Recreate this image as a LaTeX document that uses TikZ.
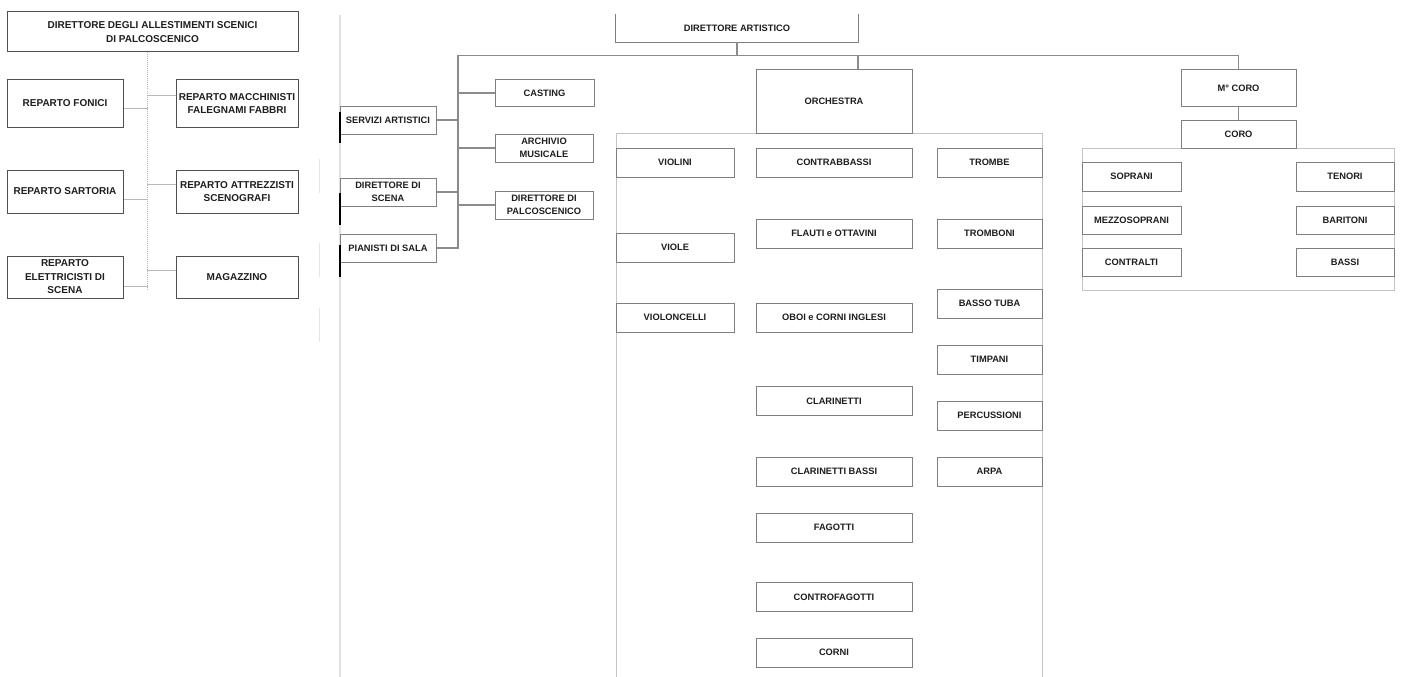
\documentclass[tikz,border=0pt]{standalone}
\usepackage{fontspec}
\setmainfont{Liberation Sans}
\usepackage{xcolor}
\usepackage{tikz}

\definecolor{boxline}{HTML}{7F7F7F}
\definecolor{linkline}{HTML}{8C8C8C}
\definecolor{frameline}{HTML}{C4C4C4}
\definecolor{darkline}{HTML}{505050}
\definecolor{paleline}{HTML}{B8B8B8}
\definecolor{rulerline}{HTML}{DDE2EA}
\definecolor{textcol}{HTML}{1E1E1E}

\begin{document}
\begin{tikzpicture}[x=1pt, y=-1pt,
		leftnode/.style={rectangle, draw=darkline, line width=1pt, inner sep=1pt, align=center, text=textcol, font=\bfseries\fontsize{10}{13.5}\selectfont},
		rectnode/.style={rectangle, draw=boxline, line width=1pt, inner sep=1pt, align=center, text=textcol, font=\bfseries\fontsize{9.3}{12.8}\selectfont, minimum height=29},
		leftlink/.style={draw=paleline, line width=1pt},
		link/.style={draw=linkline, line width=1.2pt},
		groupframe/.style={draw=frameline, line width=1pt},
	]

		% page
		\fill[white] (0,0) rectangle (1401,677);
		\useasboundingbox (0,0) rectangle (1401,677);
		\draw[rulerline, line width=1.5pt] (340,15) -- (340,677);
		\draw[black!10, line width=1pt] (319,159) -- (319,193) (319,243) -- (319,277) (319,308) -- (319,342);

		% frames
		\draw[groupframe] (616,677) -- (616,133) -- (1042,133) -- (1042,677);
		\draw[groupframe] (1082,148) rectangle (1394,290);

		% nodes, left panel
		\node[leftnode, minimum width=291, minimum height=40] (allest) at (152.5,32) {DIRETTORE DEGLI ALLESTIMENTI SCENICI\\DI PALCOSCENICO};
		\node[leftnode, minimum width=116, minimum height=47] (fonici) at (65,103.5) {REPARTO FONICI};
		\node[leftnode, minimum width=122, minimum height=47] (macchinisti) at (237,103.5) {REPARTO MACCHINISTI\\FALEGNAMI FABBRI};
		\node[leftnode, minimum width=116, minimum height=43] (sartoria) at (65,191.5) {REPARTO SARTORIA};
		\node[leftnode, minimum width=122, minimum height=43] (attrezzisti) at (237,191.5) {REPARTO ATTREZZISTI\\SCENOGRAFI};
		\node[leftnode, minimum width=116, minimum height=42] (elettricisti) at (65,277) {REPARTO\\ELETTRICISTI DI\\SCENA};
		\node[leftnode, minimum width=122, minimum height=42] (magazzino) at (237,277) {MAGAZZINO};

		% nodes, artistic staff
		\node[rectnode, minimum width=96, minimum height=28] (servizi) at (388,120) {SERVIZI ARTISTICI};
		\node[rectnode, minimum width=96, minimum height=28] (dirscena) at (388,192) {DIRETTORE DI\\SCENA};
		\node[rectnode, minimum width=96, minimum height=28] (pianisti) at (388,248) {PIANISTI DI SALA};
		\node[rectnode, minimum width=99, minimum height=26] (casting) at (544.5,93) {CASTING};
		\node[rectnode, minimum width=98, minimum height=28] (archivio) at (544,148) {ARCHIVIO\\MUSICALE};
		\node[rectnode, minimum width=98, minimum height=28] (dirpalco) at (544,205) {DIRETTORE DI\\PALCOSCENICO};
		\node[rectnode, draw=none, minimum width=242, minimum height=27] (artistico) at (737,28.5) {DIRETTORE ARTISTICO};
		\draw[boxline, line width=1pt] (artistico.north west) -- (artistico.south west) -- (artistico.south east) -- (artistico.north east);

		% nodes, orchestra
		\node[rectnode, minimum width=156, minimum height=63] (orchestra) at (834,101.5) {ORCHESTRA};
		\node[rectnode, minimum width=118] (violini) at (675,162.5) {VIOLINI};
		\node[rectnode, minimum width=118] (viole) at (675,247.5) {VIOLE};
		\node[rectnode, minimum width=118] (violoncelli) at (675,317.5) {VIOLONCELLI};
		\node[rectnode, minimum width=156] (contrabbassi) at (834,162.5) {CONTRABBASSI};
		\node[rectnode, minimum width=156] (flauti) at (834,233.5) {FLAUTI e OTTAVINI};
		\node[rectnode, minimum width=156] (oboi) at (834,317.5) {OBOI e CORNI INGLESI};
		\node[rectnode, minimum width=156] (clarinetti) at (834,401) {CLARINETTI};
		\node[rectnode, minimum width=156] (clarbassi) at (834,471.5) {CLARINETTI BASSI};
		\node[rectnode, minimum width=156] (fagotti) at (834,527.5) {FAGOTTI};
		\node[rectnode, minimum width=156] (controfagotti) at (834,597) {CONTROFAGOTTI};
		\node[rectnode, minimum width=156] (corni) at (834,652.5) {CORNI};
		\node[rectnode, minimum width=105] (trombe) at (989.5,162.5) {TROMBE};
		\node[rectnode, minimum width=105] (tromboni) at (989.5,233.5) {TROMBONI};
		\node[rectnode, minimum width=105] (tuba) at (989.5,303.5) {BASSO TUBA};
		\node[rectnode, minimum width=105] (timpani) at (989.5,359.5) {TIMPANI};
		\node[rectnode, minimum width=105] (percussioni) at (989.5,415.5) {PERCUSSIONI};
		\node[rectnode, minimum width=105] (arpa) at (989.5,471.5) {ARPA};

		% nodes, choir
		\node[rectnode, minimum width=115, minimum height=36] (mcoro) at (1238.5,88) {M° CORO};
		\node[rectnode, minimum width=115, minimum height=28] (coro) at (1238.5,134) {CORO};
		\node[rectnode, minimum width=99] (soprani) at (1131.5,176.5) {SOPRANI};
		\node[rectnode, minimum width=99, minimum height=28] (mezzo) at (1131.5,220) {MEZZOSOPRANI};
		\node[rectnode, minimum width=99, minimum height=28] (contralti) at (1131.5,262) {CONTRALTI};
		\node[rectnode, minimum width=98] (tenori) at (1345,176.5) {TENORI};
		\node[rectnode, minimum width=98, minimum height=28] (baritoni) at (1345,220) {BARITONI};
		\node[rectnode, minimum width=98, minimum height=28] (bassi) at (1345,262) {BASSI};

		% lines, left panel
		\coordinate (spine) at (147,290);
		\draw[leftlink, densely dotted] (allest.south -| spine) -- (spine);
		\draw[leftlink] ([yshift=-4.5pt]fonici.east) -- ++(24,0);
		\draw[leftlink] ([yshift=7.5pt]macchinisti.west) -- ++(-29,0);
		\draw[leftlink] ([yshift=-7.5pt]sartoria.east) -- ++(24,0);
		\draw[leftlink] ([yshift=7.5pt]attrezzisti.west) -- ++(-29,0);
		\draw[leftlink] ([yshift=-9pt]elettricisti.east) -- ++(24,0);
		\draw[leftlink] ([yshift=7pt]magazzino.west) -- ++(-29,0);

		% lines, main chart
		\coordinate (busleft) at (458,55.5);
		\coordinate (busright) at (1238.5,55.5);
		\coordinate (orchtop) at ([xshift=24pt]orchestra.north);
		\draw[link] (busright) -- (busleft) -- (busleft |- pianisti.east) -- (pianisti.east);
		\draw[link] (servizi.east) -- (servizi.east -| busleft);
		\draw[link] (dirscena.east) -- (dirscena.east -| busleft);
		\draw[link] (casting.west) -- (casting.west -| busleft);
		\draw[link] (archivio.west) -- (archivio.west -| busleft);
		\draw[link] (dirpalco.west) -- (dirpalco.west -| busleft);
		\draw[link] (artistico.south) -- (artistico.south |- busleft);
		\draw[link] (orchtop |- busleft) -- (orchtop);
		\draw[link] (busright) -- (mcoro.north);
		\draw[link] (mcoro.south) -- (coro.north);

		% bars
		\draw[black, line width=2pt] (340,112) -- (340,143) (340,193) -- (340,225) (340,245) -- (340,277);
	\end{tikzpicture}
\end{document}
